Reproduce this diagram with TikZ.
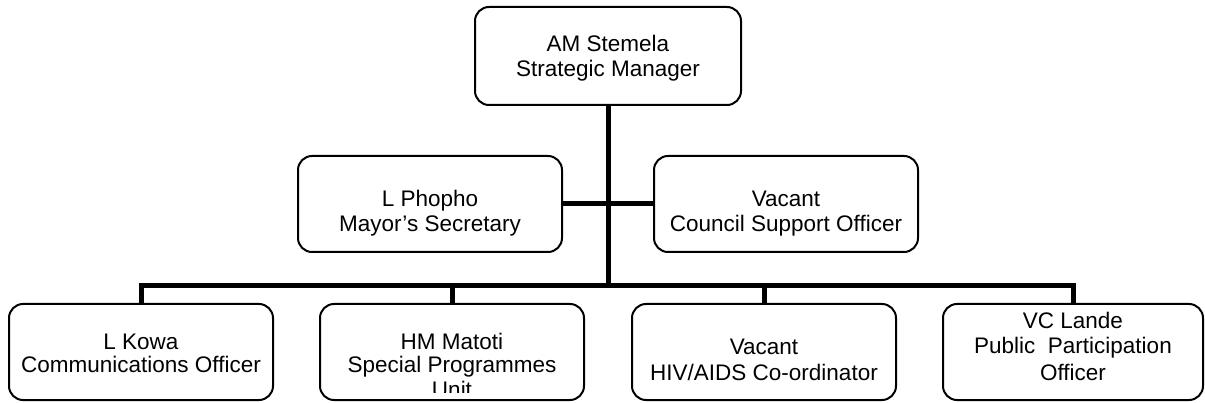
\documentclass[tikz,border=0pt]{standalone}
\usepackage{fontspec}
\setmainfont{Liberation Sans}
\usetikzlibrary{backgrounds}
\begin{document}
\begin{tikzpicture}[x=1pt,y=-1pt,
  post/.style={draw=black, line width=2pt, rounded corners=14pt, fill=white,
    inner sep=0pt, minimum height=96pt},
  link/.style={draw=black, line width=5pt},
  txt/.style={anchor=base, inner sep=0pt, font=\fontsize{22.5}{25}\selectfont}]
\useasboundingbox (0,0) rectangle (1205,403);

% boxes of the organisation chart
\node[post, minimum width=266pt, minimum height=98pt] (sm) at (608,56) {};
\node[post, minimum width=264pt] (ml) at (430,204) {};
\node[post, minimum width=264pt] (mr) at (786,204) {};
\node[post, minimum width=264pt] (b1) at (141,352) {};
\node[post, minimum width=264pt] (b2) at (452,352) {};
\node[post, minimum width=264pt] (b3) at (764,352) {};
\node[post, minimum width=260pt] (b4) at (1073,352) {};

% height of the horizontal bar above the bottom row
\coordinate (bar) at (608,286);

% connectors, kept behind the boxes
\begin{scope}[on background layer]
  \draw[link] (sm.south) -- (bar);
  \draw[link] (ml.east) -- (mr.west);
  \draw[link] (b1.north) -- (b1.north |- bar) -- (b4.north |- bar) -- (b4.north);
  \draw[link] (b2.north) -- (b2.north |- bar);
  \draw[link] (b3.north) -- (b3.north |- bar);
\end{scope}

% texts
\node[txt] (sm1) at (608,52) {AM Stemela};
\node[txt] (sm2) at (608,77) {Strategic Manager};

\node[txt] (ml1) at (430,207) {L Phopho};
\node[txt] (ml2) at (430,232) {Mayor’s Secretary};

\node[txt] (mr1) at (786,207) {Vacant};
\node[txt] (mr2) at (786,232) {Council Support Officer};

\node[txt] (b11) at (141,349) {L Kowa};
\node[txt] (b12) at (141,372) {Communications Officer};

\node[txt] (b21) at (452,349) {HM Matoti};
\node[txt] (b22) at (452,372) {Special Programmes};
\begin{scope}
  \clip (320,300) rectangle (584,392);
  \node[txt] (b23) at (452,397) {Unit};
\end{scope}

\node[txt] (b31) at (764,355) {Vacant};
\node[txt] (b32) at (764,381) {HIV/AIDS Co-ordinator};

\node[txt] (b41) at (1073,329) {VC Lande};
\node[txt] (b42) at (1073,354) {Public\ \ Participation};
\node[txt] (b43) at (1073,380) {Officer};
\end{tikzpicture}
\end{document}
